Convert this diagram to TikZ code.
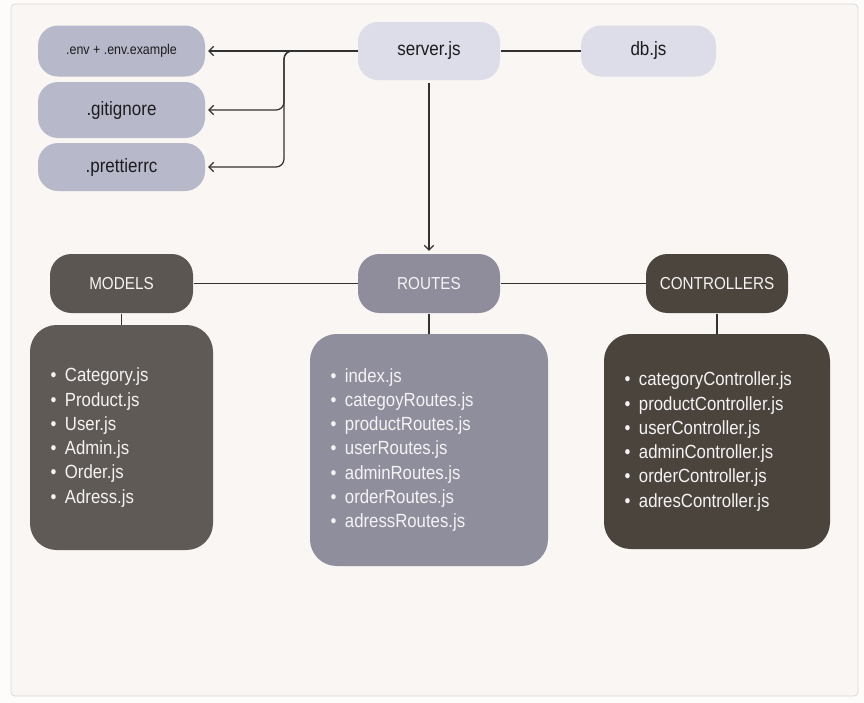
\documentclass[tikz,border=0pt]{standalone}
\usepackage{fontspec}
\setmainfont[FakeStretch=0.88]{Liberation Sans}
\usetikzlibrary{arrows.meta}

\tikzset{every picture/.style={line width=0.75pt},
  lightbox/.style={rounded corners=15pt, fill={rgb, 255:red, 184; green, 184; blue, 203}, text={rgb, 255:red, 28; green, 28; blue, 30}, inner sep=0pt, font=\fontsize{14.5}{16}\selectfont},
  serverbox/.style={lightbox, fill={rgb, 255:red, 221; green, 221; blue, 233}},
  headbox/.style={rounded corners=16pt, text={rgb, 255:red, 245; green, 243; blue, 243}, inner sep=0pt, font=\fontsize{13}{15}\selectfont},
  listbox/.style={rounded corners=20pt, text={rgb, 255:red, 245; green, 243; blue, 243}, inner xsep=15.5pt, inner ysep=0pt, align=left, font=\fontsize{14.3}{18.2}\selectfont},
  link/.style={draw={rgb, 255:red, 50; green, 50; blue, 50}, line width=0.95pt},
  linkarrow/.style={link, -{Straight Barb[length=3.5pt,width=7pt]}, shorten >=2pt}
}
\newcommand{\entry}[1]{\textbullet\hspace{6.3pt}#1}

\begin{document}
\begin{tikzpicture}[x=0.75pt,y=0.75pt,yscale=-1,xscale=1]
\useasboundingbox (0,0) rectangle (864,703);
\fill[fill={rgb, 255:red, 253; green, 252; blue, 251}] (0,0) rectangle (864,703);

%Frame
\draw[draw={rgb, 255:red, 220; green, 217; blue, 214}, fill={rgb, 255:red, 249; green, 246; blue, 243}, line width=0.6pt, rounded corners=3pt] (11,4) rectangle (858,696);

% Top row
\node[lightbox, minimum width=125.25pt, minimum height=38.25pt, font=\fontsize{10.6}{12}\selectfont] (env) at (121.5,51) {.env + .env.example};
\node[lightbox, minimum width=125.25pt, minimum height=42pt] (gitignore) at (121.5,110) {.gitignore};
\node[lightbox, minimum width=125.25pt, minimum height=36pt] (prettierrc) at (121.5,167) {.prettierrc};
\node[serverbox, minimum width=106.5pt, minimum height=43.5pt] (server) at (429,51) {server.js};
\node[serverbox, minimum width=101.25pt, minimum height=38.25pt] (db) at (648.5,51) {db.js};

% Headers
\node[headbox, fill={rgb, 255:red, 91; green, 86; blue, 81}, minimum width=107.25pt, minimum height=44.25pt] (models) at (121.5,283.5) {MODELS};
\node[headbox, fill={rgb, 255:red, 143; green, 141; blue, 156}, minimum width=106.5pt, minimum height=44.25pt] (routes) at (429,283.5) {ROUTES};
\node[headbox, fill={rgb, 255:red, 75; green, 69; blue, 61}, minimum width=106.5pt, minimum height=44.25pt] (controllers) at (717,283.5) {CONTROLLERS};

% Lists
\node[listbox, fill={rgb, 255:red, 95; green, 90; blue, 85}, minimum width=137.25pt, minimum height=168.75pt, text width=106.25pt] (modelsList) at (121.5,437.5)
  {\entry{Category.js}\\ \entry{Product.js}\\ \entry{User.js}\\ \entry{Admin.js}\\ \entry{Order.js}\\ \entry{Adress.js}};
\node[listbox, fill={rgb, 255:red, 143; green, 142; blue, 157}, minimum width=178.5pt, minimum height=174pt, text width=147.5pt] (routesList) at (429,450)
  {\entry{index.js}\\ \entry{categoyRoutes.js}\\ \entry{productRoutes.js}\\ \entry{userRoutes.js}\\ \entry{adminRoutes.js}\\ \entry{orderRoutes.js}\\ \entry{adressRoutes.js}};
\node[listbox, fill={rgb, 255:red, 74; green, 68; blue, 60}, minimum width=169.5pt, minimum height=161.25pt, text width=138.5pt] (controllersList) at (717,441.5)
  {\entry{categoryController.js}\\ \entry{productController.js}\\ \entry{userController.js}\\ \entry{adminController.js}\\ \entry{orderController.js}\\ \entry{adresController.js}};

%Straight Lines
\coordinate (fork) at (284,51);
\draw[linkarrow] (server.west) -- (env.east);
\draw[linkarrow, rounded corners=6pt] (server.west) -| (fork |- gitignore.east) -- (gitignore.east);
\draw[linkarrow, rounded corners=6pt] (server.west) -| (fork |- prettierrc.east) -- (prettierrc.east);
\draw[link] (server.east) -- (db.west);
\draw[linkarrow, shorten <=2pt] (server.south) -- (routes.north);
\draw[link] (models.east) -- (routes.west);
\draw[link] (routes.east) -- (controllers.west);
\draw[link] (models.south) -- (modelsList.north);
\draw[link] (routes.south) -- (routesList.north);
\draw[link] (controllers.south) -- (controllersList.north);

\end{tikzpicture}
\end{document}
